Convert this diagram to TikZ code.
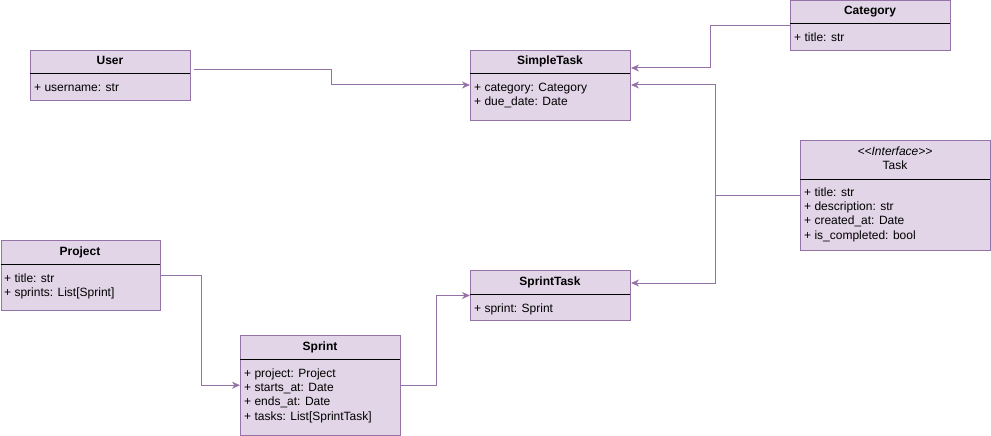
\documentclass[tikz,border=0pt]{standalone}
\usepackage{fontspec}
\setmainfont{Liberation Sans}
\usetikzlibrary{arrows.meta,calc}
\definecolor{umlfill}{HTML}{E1D5E7}
\definecolor{umlline}{HTML}{9673A6}
\tikzset{
  umlbox/.style={draw=umlline, fill=umlfill, line width=1pt, rectangle, inner sep=0pt, anchor=north west},
  sepline/.style={draw=black, line width=1pt},
  ctitle/.style={anchor=base, inner sep=0pt, font=\fontsize{12}{14}\selectfont\bfseries},
  stereo/.style={anchor=base, inner sep=0pt, font=\fontsize{12}{14}\selectfont},
  attr/.style={anchor=base west, inner sep=0pt, font=\fontsize{12}{14}\selectfont},
  conn/.style={draw=umlline, line width=1pt, -{Stealth[length=8pt,width=7pt,inset=2.5pt]}},
}
\begin{document}
\begin{tikzpicture}[x=1pt,y=-1pt]
\useasboundingbox (0,0) rectangle (991,436);

% User
\node[umlbox, minimum width=160pt, minimum height=50pt] (user) at (30,50) {};
\draw[sepline] (30,74) -- (190,74);
\node[ctitle] (userT) at (110,65) {User};
\node[attr] (userA1) at (34,92) {+ username: str};

% SimpleTask
\node[umlbox, minimum width=160pt, minimum height=70pt] (simple) at (470,50) {};
\draw[sepline] (470,74) -- (630,74);
\node[ctitle] (simpleT) at (550,65) {SimpleTask};
\node[attr] (simpleA1) at (474,92) {+ category: Category};
\node[attr] (simpleA2) at (474,106) {+ due\_date: Date};

% Category
\node[umlbox, minimum width=160pt, minimum height=49.5pt] (cat) at (790,0.5) {};
\draw[sepline] (790,24) -- (950,24);
\node[ctitle] (catT) at (870,15) {Category};
\node[attr] (catA1) at (794,42) {+ title: str};

% Task
\node[umlbox, minimum width=190pt, minimum height=110pt] (task) at (800,140) {};
\draw[sepline] (800,179) -- (990,179);
\node[stereo] (taskS) at (895,155) {\itshape <\kern0pt<\kern0pt Interface>\kern0pt>};
\node[stereo] (taskT) at (895,169) {Task};
\node[attr] (taskA1) at (804,196) {+ title: str};
\node[attr] (taskA2) at (804,210.3) {+ description: str};
\node[attr] (taskA3) at (804,224.6) {+ created\_at: Date};
\node[attr] (taskA4) at (804,239) {+ is\_completed: bool};

% Project
\node[umlbox, minimum width=159.5pt, minimum height=70pt] (project) at (0.5,240) {};
\draw[sepline] (0.5,264) -- (160,264);
\node[ctitle] (projectT) at (80,255) {Project};
\node[attr] (projectA1) at (4,282) {+ title: str};
\node[attr] (projectA2) at (4,296) {+ sprints: List[Sprint]};

% SprintTask
\node[umlbox, minimum width=160pt, minimum height=50pt] (sprinttask) at (470,270) {};
\draw[sepline] (470,294) -- (630,294);
\node[ctitle] (sprinttaskT) at (550,285) {SprintTask};
\node[attr] (sprinttaskA1) at (474,312) {+ sprint: Sprint};

% Sprint
\node[umlbox, minimum width=160pt, minimum height=99.5pt] (sprint) at (240,335) {};
\draw[sepline] (240,359) -- (400,359);
\node[ctitle] (sprintT) at (320,350) {Sprint};
\node[attr] (sprintA1) at (244,377) {+ project: Project};
\node[attr] (sprintA2) at (244,391.3) {+ starts\_at: Date};
\node[attr] (sprintA3) at (244,405.6) {+ ends\_at: Date};
\node[attr] (sprintA4) at (244,420) {+ tasks: List[SprintTask]};

% Connectors
\draw[conn] ($(user.north east)+(3,20)$) -- ++(137,0) |- ($(simple.north west)+(0,35)$);
\draw[conn] (cat.west) -- ++(-80,0) |- ($(simple.north east)+(0,18)$);
\coordinate (junc) at ($(task.west)+(-85,0)$);
\draw[conn] (task.west) -- (junc) |- ($(simple.north east)+(0,35)$);
\draw[conn] (junc) |- ($(sprinttask.north east)+(0,13)$);
\draw[conn] (project.east) -- ++(40,0) |- (sprint.west);
\draw[conn] (sprint.east) -- ++(35,0) |- (sprinttask.west);
\end{tikzpicture}
\end{document}
